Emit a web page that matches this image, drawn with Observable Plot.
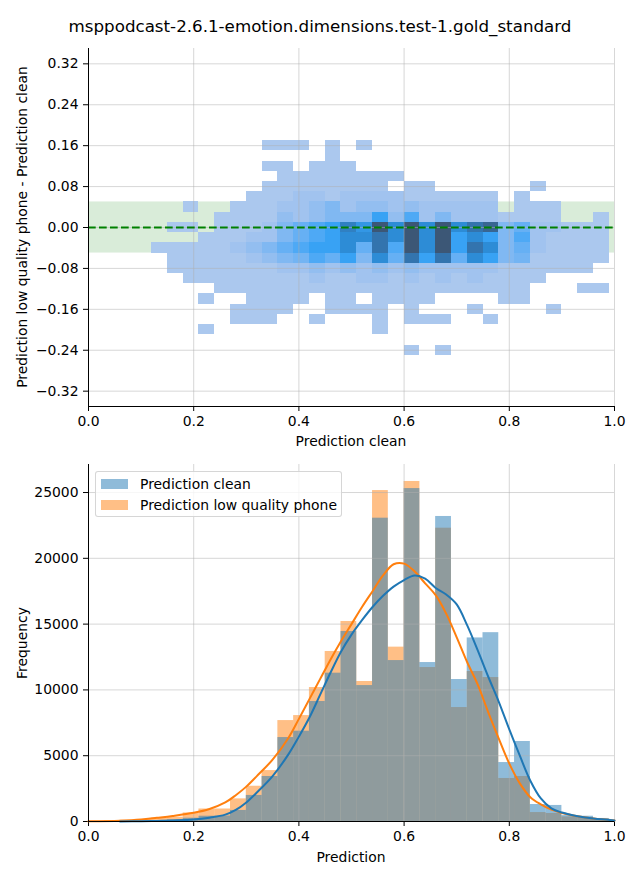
<!DOCTYPE html>
<html>
<head>
<meta charset="utf-8">
<script src="https://cdn.jsdelivr.net/npm/d3@7"></script>
<script src="https://cdn.jsdelivr.net/npm/@observablehq/plot@0.6"></script>
<style>
  body { margin: 0; background: #fff; font-family: "DejaVu Sans", sans-serif; }
  #wrap { position: relative; width: 640px; height: 880px; overflow: hidden; }
  #title { position: absolute; left: 0; top: 16px; width: 640px; text-align: center; font-size: 16.7px; line-height: 20px; color: #000; }
  #top { position: absolute; left: 0; top: 40px; }
  #bottom { position: absolute; left: 0; top: 452px; }
  .lab { position: absolute; font-size: 13.9px; line-height: 16px; white-space: nowrap; color: #000; transform: translate(-50%, -50%); }
  .rot { transform: translate(-50%, -50%) rotate(-90deg); }
  #legend { position: absolute; left: 95px; top: 471px; width: 245px; height: 44px; border: 1px solid rgba(204,204,204,0.8); border-radius: 3px; background: rgba(255,255,255,0.8); }
  .li { position: absolute; left: 5px; height: 16px; font-size: 13.9px; line-height: 16px; white-space: nowrap; }
  .sw { display: inline-block; width: 27px; height: 10.5px; vertical-align: middle; margin-right: 12px; position: relative; top: -1px; }
</style>
</head>
<body>
<div id="wrap">
  <div id="title">msppodcast-2.6.1-emotion.dimensions.test-1.gold_standard</div>
  <div id="top"></div>
  <div id="bottom"></div>
  <div class="lab" style="left:351px;top:441px;">Prediction clean</div>
  <div class="lab rot" style="left:22px;top:227px;">Prediction low quality phone - Prediction clean</div>
  <div class="lab" style="left:351px;top:857px;">Prediction</div>
  <div class="lab rot" style="left:22px;top:643px;">Frequency</div>
  <div id="legend">
    <div class="li" style="top:4px;"><span class="sw" style="background:rgba(31,119,180,0.5)"></span>Prediction clean</div>
    <div class="li" style="top:25px;"><span class="sw" style="background:rgba(255,127,14,0.5)"></span>Prediction low quality phone</div>
  </div>
</div>
<script>
// ---------------- data ----------------
const binEdges = [0, 0.03, 0.06, 0.09, 0.12, 0.15, 0.18, 0.21, 0.24, 0.27, 0.30, 0.33, 0.36, 0.39, 0.42, 0.45, 0.48, 0.51, 0.54, 0.57, 0.60, 0.63, 0.66, 0.69, 0.72, 0.75, 0.78, 0.81, 0.84, 0.87, 0.90, 0.93, 0.96, 0.99, 1.02];
const diffEdges = [0.17, 0.15, 0.13, 0.11, 0.09, 0.07, 0.05, 0.03, 0.01, -0.01, -0.03, -0.05, -0.07, -0.09, -0.11, -0.13, -0.15, -0.17, -0.19, -0.21, -0.23, -0.25];

// 2D histogram (relative counts), one row per difference bin (top to bottom), one column per prediction bin
const heatCounts = [
  [0,0,0,0,0,0,0,0,0,0, 0,1,1,1,0,1,0,1,0,0, 0,0,0,0,0,0,0,0,0,0, 0,0,0,0],
  [0,0,0,0,0,0,0,0,0,0, 0,0,0,0,0,1,0,0,0,0, 0,0,0,0,0,0,0,0,0,0, 0,0,0,0],
  [0,0,0,0,0,0,0,0,0,0, 0,1,1,0,1,1,1,0,0,0, 0,0,0,0,0,0,0,0,0,0, 0,0,0,0],
  [0,0,0,0,0,0,0,0,0,0, 0,0,1,1,1,1,1,1,1,1, 0,0,0,0,0,0,0,0,0,0, 0,0,0,0],
  [0,0,0,0,0,0,0,0,0,0, 0,1,1,1,1,1,1,1,1,0, 1,1,0,0,0,0,0,0,1,0, 0,0,0,0],
  [0,0,0,0,0,0,0,0,0,0, 1,1,1,2,2,1,2,2,2,2, 1,1,1,1,1,1,0,1,0,0, 0,0,0,0],
  [0,0,0,0,0,0,1,0,0,1, 1,1,2,2,3,4,2,3,3,2, 3,2,2,2,2,2,0,1,1,1, 0,0,0,0],
  [0,0,0,0,0,0,0,0,1,1, 1,1,3,2,3,4,4,4,7,3, 6,2,4,2,2,2,1,1,1,1, 0,0,1,0],
  [0,0,0,0,0,1,1,0,1,1, 1,2,4,5,6,7,8.5,7.5,10,8, 10,8,10,8,9,9.5,4,5,2,2, 1,1,1,0],
  [0,0,0,0,0,0,0,1,1,1, 2,2,4,5,6,7,8,8,9,8, 10,8,10,7,8,7,4,6,2,1, 1,1,1,0],
  [0,0,0,0,1,1,1,1,1,2, 3,4,5,6,7,7,8,5,9,6, 10,8,10,7,9,8,4,5,2,1, 1,1,1,0],
  [0,0,0,0,0,1,1,1,1,1, 2,3,4,4.5,6,5,7,4,8,5, 9,7,9,5,8,7,4,4.5,1,1, 1,1,1,0],
  [0,0,0,0,0,1,1,1,1,1, 1,1,2,2,3,2,3,2,3,2, 3,2,2,2,2,2,1,1,1,1, 1,1,0,0],
  [0,0,0,0,0,0,1,1,1,1, 1,1,1,1,2,1,1,2,2,1, 2,1,2,1,2,1,1,1,1,0, 0,0,0,0],
  [0,0,0,0,0,0,0,0,1,1, 1,1,1,1,1,1,1,1,1,1, 1,1,1,1,1,1,1,1,0,0, 0,1,1,0],
  [0,0,0,0,0,0,0,1,0,0, 1,1,1,1,0,1,1,0,1,1, 1,1,0,0,0,0,1,1,0,0, 0,0,0,0],
  [0,0,0,0,0,0,0,0,0,1, 1,1,1,0,0,1,1,1,1,0, 1,0,0,0,1,0,0,0,0,1, 0,0,0,0],
  [0,0,0,0,0,0,0,0,0,1, 1,1,0,0,1,0,0,0,1,0, 1,1,1,0,0,1,0,0,0,0, 0,0,0,0],
  [0,0,0,0,0,0,0,1,0,0, 0,0,0,0,0,0,0,0,1,0, 0,0,0,0,0,0,0,0,0,0, 0,0,0,0],
  [0,0,0,0,0,0,0,0,0,0, 0,0,0,0,0,0,0,0,0,0, 0,0,0,0,0,0,0,0,0,0, 0,0,0,0],
  [0,0,0,0,0,0,0,0,0,0, 0,0,0,0,0,0,0,0,0,0, 1,0,1,0,0,0,0,0,0,0, 0,0,0,0]
];
const toleranceBand = [-0.05, 0.05];
const referenceDiff = 0;

// 1D histograms (frequency per bin)
const histClean = [0, 0, 20, 30, 60, 120, 250, 400, 420, 840, 1980, 3420, 6380, 6860, 9120, 11270, 14440, 10330, 23050, 12230, 25300, 12080, 23180, 10790, 13950, 14350, 4480, 6080, 1290, 1220, 450, 400, 230, 0];
const histPhone = [30, 60, 100, 150, 250, 330, 650, 950, 950, 1720, 2680, 3870, 7670, 8050, 10180, 12920, 15200, 10640, 25150, 13250, 25840, 11700, 22290, 8660, 11400, 10940, 3270, 3420, 680, 610, 350, 300, 150, 0];

// KDE curves
const kdeX = [0, 0.06, 0.10, 0.13, 0.16, 0.20, 0.23, 0.26, 0.28, 0.30, 0.32, 0.35, 0.38, 0.40, 0.42, 0.44, 0.46, 0.48, 0.50, 0.52, 0.54, 0.56, 0.58, 0.60, 0.62, 0.64, 0.66, 0.68, 0.70, 0.72, 0.74, 0.76, 0.78, 0.80, 0.82, 0.84, 0.86, 0.88, 0.90, 0.93, 0.96, 1.00];
const kdeClean = [null, 5, 25, 45, 80, 150, 290, 520, 880, 1450, 2200, 3450, 5100, 6450, 7900, 9600, 11300, 12900, 14200, 15300, 16300, 17150, 17850, 18350, 18700, 18450, 17750, 17250, 16500, 14900, 13000, 11000, 9100, 7000, 5000, 3100, 1750, 1000, 680, 400, 220, 80];
const kdePhone = [10, 60, 150, 280, 420, 660, 950, 1450, 2000, 2650, 3450, 4700, 6350, 7800, 9300, 10800, 12300, 13700, 15000, 16300, 17500, 18700, 19550, 19600, 19000, 18100, 17200, 15800, 14000, 12100, 10400, 8300, 6300, 4400, 2900, 1850, 1300, 900, 650, 400, 220, 75];

// axes
const xDomain = [0, 1];
const xTicks = [0, 0.2, 0.4, 0.6, 0.8, 1.0];
const diffDomain = [-0.35, 0.35];
const diffTicks = [-0.32, -0.24, -0.16, -0.08, 0, 0.08, 0.16, 0.24, 0.32];
const freqDomain = [0, 27130];
const freqTicks = [0, 5000, 10000, 15000, 20000, 25000];

// ---------------- drawing ----------------
const heatLevels = [1, 2, 3, 4, 5, 6, 7, 8, 9, 10];
const heatColors = ["#abc8ee", "#a1c3ef", "#93bef0", "#80b8f2", "#66b0f4", "#4ea9f5", "#38a2f4", "#2d8cd6", "#3374ae", "#3c5776"];

const cells = [];
heatCounts.forEach((row, i) => row.forEach((c, j) => {
  if (c > 0) cells.push({x1: binEdges[j], x2: binEdges[j + 1], y1: diffEdges[i + 1], y2: diffEdges[i], c});
}));

const gridStyle = {stroke: "#b0b0b0", strokeOpacity: 0.5, strokeWidth: 1};
const common = {
  width: 640,
  marginLeft: 88,
  marginRight: 26,
  style: {fontFamily: "DejaVu Sans, sans-serif", fontSize: "13.9px", color: "black", background: "white", overflow: "visible"}
};

const topPlot = Plot.plot({
  ...common,
  height: 412,
  marginTop: 8,
  marginBottom: 46,
  x: {domain: xDomain, ticks: xTicks, tickFormat: d3.format(".1f"), tickSize: 5, tickPadding: 5, label: null},
  y: {domain: diffDomain, ticks: diffTicks, tickFormat: d3.format(".2f"), tickSize: 5, tickPadding: 5, label: null},
  color: {type: "linear", domain: heatLevels, range: heatColors},
  marks: [
    Plot.rect([toleranceBand], {x1: () => xDomain[0], x2: () => xDomain[1], y1: d => d[0], y2: d => d[1], fill: "green", fillOpacity: 0.15}),
    Plot.rect(cells, {x1: "x1", x2: "x2", y1: "y1", y2: "y2", fill: "c", inset: 0, shapeRendering: "crispEdges"}),
    Plot.ruleX(xTicks, gridStyle),
    Plot.ruleY(diffTicks, gridStyle),
    Plot.ruleY([referenceDiff], {stroke: "green", strokeWidth: 2, strokeDasharray: "7.7,3.3"}),
    Plot.ruleX([xDomain[0]], {stroke: "black", strokeWidth: 1}),
    Plot.ruleY([diffDomain[0]], {stroke: "black", strokeWidth: 1})
  ]
});
document.getElementById("top").appendChild(topPlot);

const bars = histClean.map((v, j) => ({x1: binEdges[j], x2: binEdges[j + 1], clean: v, phone: histPhone[j]}));
const kdeRowsClean = kdeX.map((x, i) => ({x, y: kdeClean[i]})).filter(d => d.y != null);
const kdeRowsPhone = kdeX.map((x, i) => ({x, y: kdePhone[i]}));

const bottomPlot = Plot.plot({
  ...common,
  height: 428,
  marginTop: 12,
  marginBottom: 59,
  x: {domain: xDomain, ticks: xTicks, tickFormat: d3.format(".1f"), tickSize: 5, tickPadding: 5, label: null},
  y: {domain: freqDomain, ticks: freqTicks, tickFormat: d3.format("d"), tickSize: 5, tickPadding: 5, label: null},
  marks: [
    Plot.rectY(bars, {x1: "x1", x2: "x2", y: "phone", fill: "#ff7f0e", fillOpacity: 0.5, inset: 0, clip: true}),
    Plot.rectY(bars, {x1: "x1", x2: "x2", y: "clean", fill: "#1f77b4", fillOpacity: 0.5, inset: 0, clip: true}),
    Plot.ruleX(xTicks, gridStyle),
    Plot.ruleY(freqTicks, gridStyle),
    Plot.line(kdeRowsPhone, {x: "x", y: "y", stroke: "#ff7f0e", strokeWidth: 2, curve: "catmull-rom"}),
    Plot.line(kdeRowsClean, {x: "x", y: "y", stroke: "#1f77b4", strokeWidth: 2, curve: "catmull-rom"}),
    Plot.ruleX([xDomain[0]], {stroke: "black", strokeWidth: 1}),
    Plot.ruleY([freqDomain[0]], {stroke: "black", strokeWidth: 1})
  ]
});
document.getElementById("bottom").appendChild(bottomPlot);
</script>
</body>
</html>
